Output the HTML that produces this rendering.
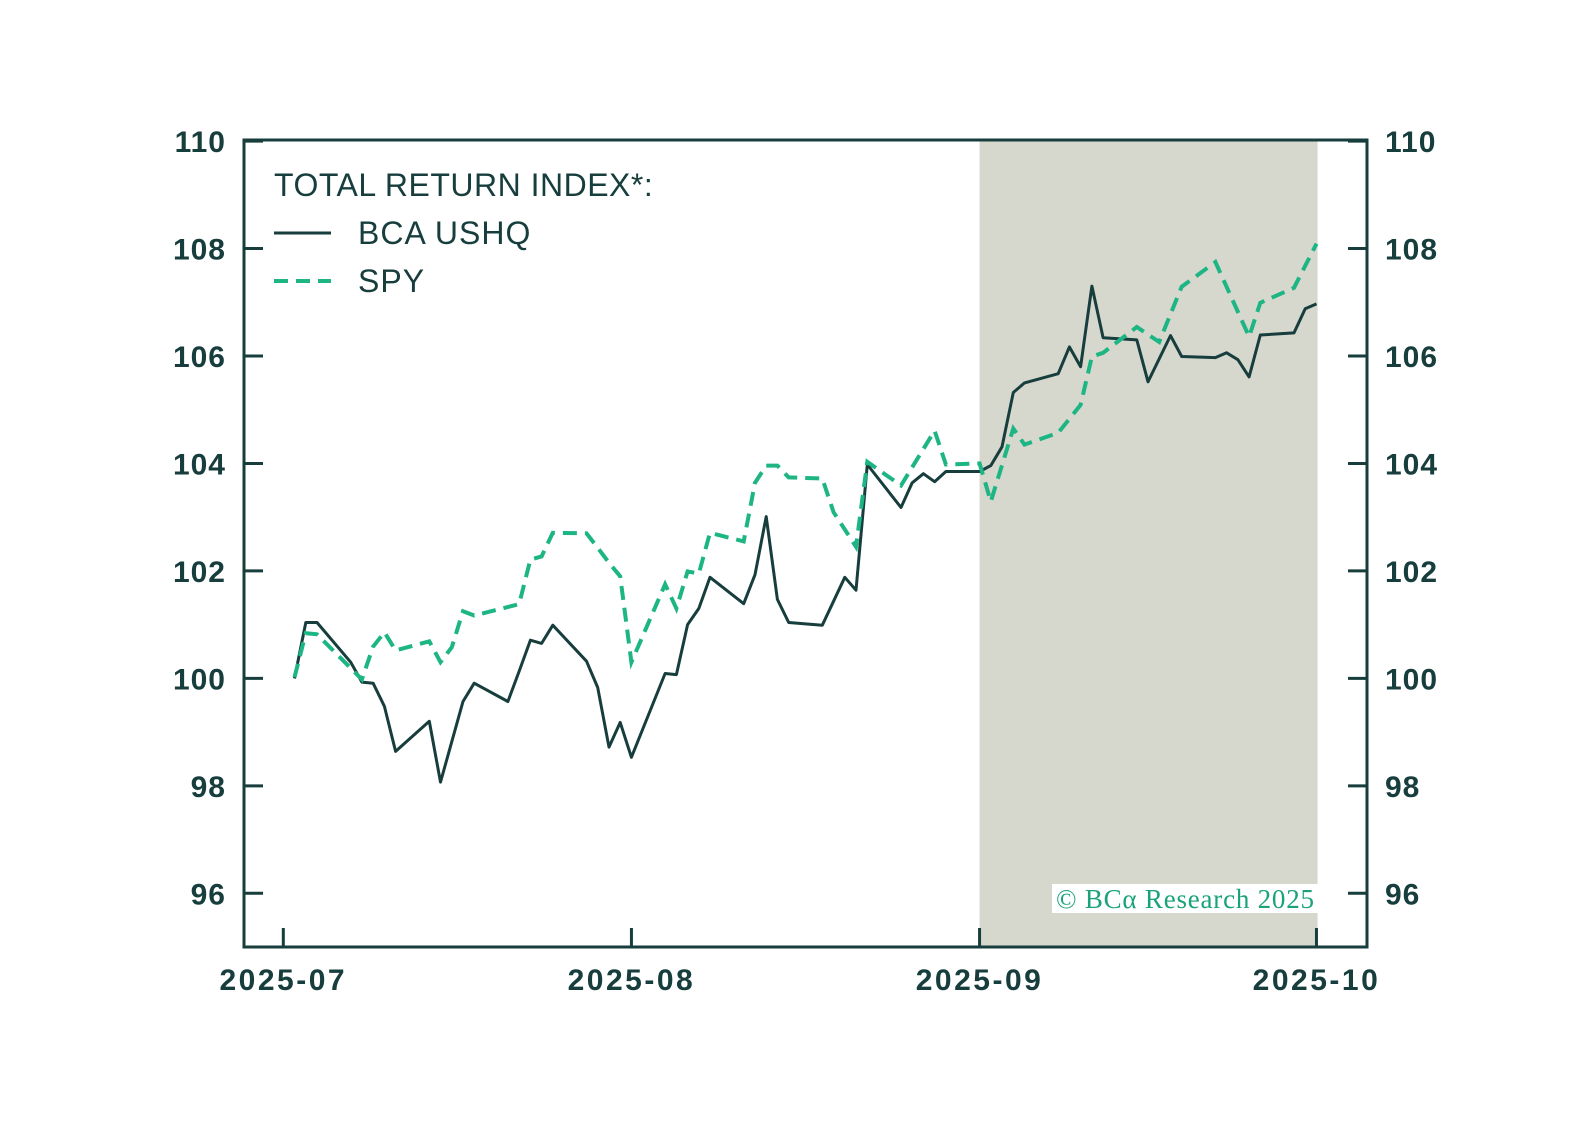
<!DOCTYPE html>
<html><head><meta charset="utf-8"><style>
html,body{margin:0;padding:0;background:#fff;}
svg{display:block;}
text{font-family:"Liberation Sans",sans-serif;}
</style></head><body>
<svg id="chart" width="1593" height="1144" viewBox="0 0 1593 1144" xmlns="http://www.w3.org/2000/svg">
<g id="shade-layer"></g>
<g id="series-layer"></g>
<g id="axis-layer"></g>
<g id="legend">
  <text x="274" y="196" font-size="32" letter-spacing="0.5" fill="#173d3d">TOTAL RETURN INDEX*:</text>
  <line x1="274" y1="233" x2="331" y2="233" stroke="#173d3d" stroke-width="3"/>
  <text x="358" y="244" font-size="32" letter-spacing="1" fill="#173d3d">BCA USHQ</text>
  <line x1="274" y1="281" x2="331" y2="281" stroke="#1db584" stroke-width="4" stroke-dasharray="14 8"/>
  <text x="358" y="292" font-size="32" letter-spacing="1" fill="#173d3d">SPY</text>
</g>
<g>
  <rect x="1052" y="884" width="267" height="29" fill="#ffffff"/>
  <text x="1056" y="908" font-size="27" textLength="258" fill="#1aa37a" style="font-family:'Liberation Serif',serif;">© BCα Research 2025</text>
</g>
</svg>
<script>
// data: days since 2025-07-01
const bcaDays = [1,2,3,6,7,8,9,10,13,14,16,17,20,21,22,23,24,27,28,29,30,31,34,35,36,37,38,41,42,43,44,45,48,50,51,52,55,56,57,58,59,62,63,64,65,66,69,70,71,72,73,76,77,79,80,83,84,85,86,87,90,91,92];
const bcaValues = [100.0,101.04,101.04,100.30,99.93,99.91,99.48,98.64,99.20,98.07,99.57,99.91,99.57,100.13,100.71,100.65,100.99,100.32,99.83,98.72,99.18,98.53,100.09,100.07,101.0,101.30,101.88,101.39,101.93,103.01,101.47,101.04,100.99,101.88,101.64,103.98,103.18,103.64,103.81,103.66,103.85,103.85,103.96,104.31,105.32,105.50,105.67,106.17,105.80,107.30,106.34,106.30,105.52,106.38,105.99,105.97,106.06,105.93,105.61,106.39,106.43,106.88,106.97];
const spyDays = [1,2,3,7,8,9,10,13,14,15,16,17,21,22,23,24,27,28,29,30,31,34,35,36,37,38,41,42,43,44,45,48,49,51,52,55,58,59,62,63,65,66,69,71,72,73,76,78,80,83,86,87,90,92];
const spyValues = [100.02,100.84,100.82,99.98,100.59,100.86,100.52,100.69,100.30,100.58,101.25,101.17,101.38,102.21,102.27,102.71,102.70,102.43,102.15,101.9,100.30,101.75,101.30,101.99,101.95,102.71,102.55,103.64,103.96,103.96,103.74,103.72,103.09,102.45,104.03,103.59,104.61,103.98,104.0,103.29,104.65,104.35,104.57,105.09,105.99,106.06,106.54,106.26,107.29,107.75,106.36,106.99,107.27,108.09];
const yTicks = [96,98,100,102,104,106,108,110];
const xTickDays = [0,31,62,92];
const xTickLabels = ["2025-07","2025-08","2025-09","2025-10"];
const shadeStartDay = 62;
const shadeEndDay = 92.1;

const L=244,R=1367,T=140,B=947;
const DMIN=-3.5,DMAX=96.5,VMIN=95,VMAX=110.02;
const NS="http://www.w3.org/2000/svg";
const DARK="#173d3d",GREEN="#1db584";
function xs(d){return L+(d-DMIN)/(DMAX-DMIN)*(R-L);}
function ys(v){return B-(v-VMIN)/(VMAX-VMIN)*(B-T);}
function mk(tag,attrs,parent){const e=document.createElementNS(NS,tag);for(const k in attrs)e.setAttribute(k,attrs[k]);parent.appendChild(e);return e;}

const shadeL=document.getElementById('shade-layer');
const sh=mk('rect',{x:xs(shadeStartDay),y:T,width:xs(shadeEndDay)-xs(shadeStartDay),height:B-T,fill:'#d6d8ce'},shadeL);



const ser=document.getElementById('series-layer');
function pts(ds,vs){return ds.map((d,i)=>xs(d).toFixed(1)+','+ys(vs[i]).toFixed(1)).join(' ');}
const l1=mk('polyline',{points:pts(bcaDays,bcaValues),fill:'none',stroke:DARK,'stroke-width':3,'stroke-linejoin':'round'},ser);


const l2=mk('polyline',{points:pts(spyDays,spyValues),fill:'none',stroke:GREEN,'stroke-width':4,'stroke-dasharray':'14 8'},ser);



const ax=document.getElementById('axis-layer');
const fr=mk('rect',{x:L,y:T,width:R-L,height:B-T,fill:'none',stroke:DARK,'stroke-width':3},ax);


yTicks.forEach(v=>{
  const y=ys(v);
  mk('line',{x1:L,y1:y,x2:L+19,y2:y,stroke:DARK,'stroke-width':3},ax);
  mk('line',{x1:R-19,y1:y,x2:R,y2:y,stroke:DARK,'stroke-width':3},ax);
  const t1=mk('text',{x:226,y:y+11,'text-anchor':'end','font-size':30,'font-weight':'bold','letter-spacing':1,fill:DARK},ax);
  t1.textContent=v;
  
  
  const t2=mk('text',{x:1385,y:y+11,'text-anchor':'start','font-size':30,'font-weight':'bold','letter-spacing':1,fill:DARK},ax);
  t2.textContent=v;
  
  
});
xTickDays.forEach((d,i)=>{
  const x=xs(d);
  mk('line',{x1:x,y1:B,x2:x,y2:B-19,stroke:DARK,'stroke-width':3},ax);
  const t=mk('text',{x:x,y:990,'text-anchor':'middle','font-size':30,'font-weight':'bold','letter-spacing':2.5,fill:DARK},ax);
  t.textContent=xTickLabels[i];
  
  
});
</script>
</body></html>
